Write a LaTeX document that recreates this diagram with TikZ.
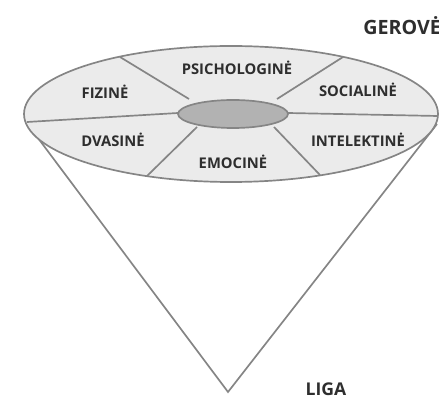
\documentclass[tikz,border=0pt]{standalone}
\usepackage{fontspec}
\setsansfont{Open Sans}
\begin{document}
\begin{tikzpicture}[x=0.025cm,y=-0.025cm,
        rim/.style={draw=black!48,line width=1.2pt},
        lbl/.style={font=\sffamily\bfseries\fontsize{10.5}{11}\selectfont,text=black!82,inner sep=0pt}]
        \useasboundingbox (0,0) rectangle (439,405);
        % cone
        \coordinate (apex) at (228,392);
        \coordinate (coneL) at (26,122);
        \coordinate (coneR) at (437,124);
        \draw[rim] (coneL) -- (apex) -- (coneR);
        % disc
        \draw[rim,fill=black!8] (231,114) ellipse (207 and 68);
        % dividers, inner end then outer end
        \coordinate (iL) at (178,113);  \coordinate (oL) at (27,122);
        \coordinate (iUL) at (189,99);  \coordinate (oUL) at (120,57);
        \coordinate (iUR) at (277,99);  \coordinate (oUR) at (343,57);
        \coordinate (iR) at (288,113);  \coordinate (oR) at (438,116);
        \coordinate (iDL) at (197,127); \coordinate (oDL) at (147,176);
        \coordinate (iDR) at (274,127); \coordinate (oDR) at (320,175);
        \foreach \s in {L,UL,UR,R,DL,DR}
            \draw[rim] (i\s) -- (o\s);
        \draw[rim,fill=black!30] (233,114) ellipse (55 and 14);
        % labels
        \node[lbl] (psi) at (237,68) {PSICHOLOGINĖ};
        \node[lbl] (fiz) at (105,92) {FIZINĖ};
        \node[lbl] (soc) at (358,90) {SOCIALINĖ};
        \node[lbl] (dva) at (113,140) {DVASINĖ};
        \node[lbl] (int) at (358,140) {INTELEKTINĖ};
        \node[lbl] (emo) at (233,162) {EMOCINĖ};
        \node[lbl,anchor=west,font=\sffamily\bfseries\fontsize{14}{15}\selectfont] (ger) at (363,26) {GEROVĖ};
        \node[lbl,font=\sffamily\bfseries\fontsize{12.5}{13}\selectfont] (liga) at (326,389) {LIGA};
\end{tikzpicture}
\end{document}
